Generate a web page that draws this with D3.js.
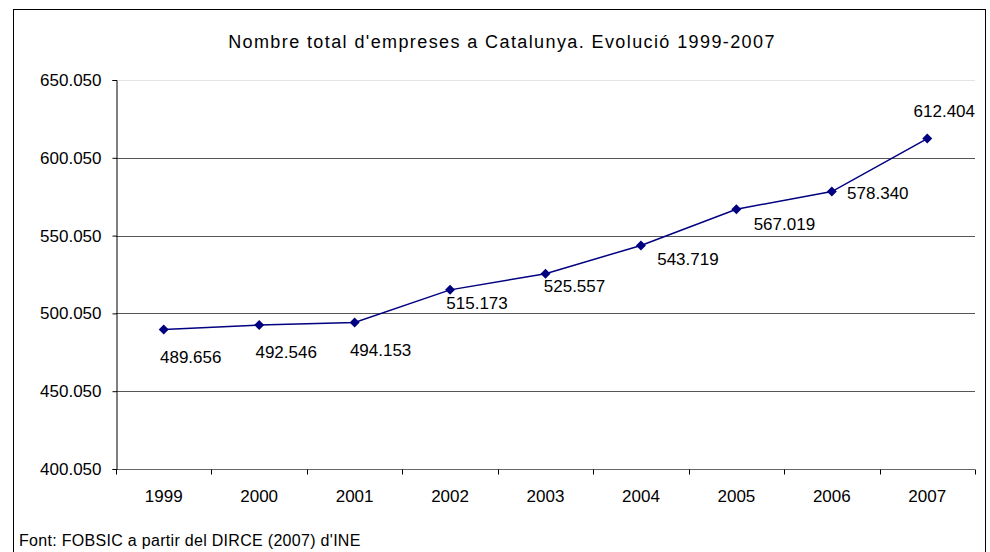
<!DOCTYPE html>
<html>
<head>
<meta charset="utf-8">
<script src="https://cdn.jsdelivr.net/npm/d3@7"></script>
<style>
  body { margin: 0; background: #fff; }
  svg text { font-family: "Liberation Sans", Arial, sans-serif; fill: #000; }
</style>
</head>
<body>
<div id="chart"></div>
<script>
// data
const years = ['1999', '2000', '2001', '2002', '2003', '2004', '2005', '2006', '2007'];
const empreses = [489656, 492546, 494153, 515173, 525557, 543719, 567019, 578340, 612404];
const yTicks = [400050, 450050, 500050, 550050, 600050, 650050];

// label offsets relative to each point (dx, dy of text centre)
const labelOffsets = [[27, 27], [27, 27], [26, 27], [27, 13], [29, 12], [47, 14], [48, 15], [46, 1], [17, -28]];

const w = 990, h = 552;
const margin = { left: 116, right: 15, top: 80, bottom: 83 };

const svg = d3.select('#chart')
  .append('svg')
  .attr('width', w)
  .attr('height', h);

// outer frame
svg.append('rect')
  .attr('x', 13.5).attr('y', 9.5)
  .attr('width', 972).attr('height', 560)
  .attr('fill', '#fff')
  .attr('stroke', '#000')
  .attr('stroke-width', 1);

const fmt = v => d3.format(',')(v).replace(/,/g, '.');

const yScale = d3.scaleLinear()
  .domain([400050, 650050])
  .range([h - margin.bottom, margin.top]);

const xScale = d3.scaleBand()
  .domain(years)
  .range([margin.left, w - margin.right]);

// gridlines
svg.append('g')
  .selectAll('line')
  .data(yTicks.slice(1))
  .enter()
  .append('line')
  .attr('x1', margin.left)
  .attr('x2', w - margin.right)
  .attr('y1', d => Math.round(yScale(d)) + 0.5)
  .attr('y2', d => Math.round(yScale(d)) + 0.5)
  .attr('stroke', d => d === 650050 ? '#e4e4e4' : '#555');

// x axis: ticks at category boundaries
const xAxisY = Math.round(yScale(400050)) + 0.5;
const xg = svg.append('g');
xg.append('line')
  .attr('x1', margin.left).attr('x2', w - margin.right)
  .attr('y1', xAxisY).attr('y2', xAxisY)
  .attr('stroke', '#666');
xg.selectAll('.xtick')
  .data(years.map(y => xScale(y)).concat([w - margin.right]))
  .enter()
  .append('line')
  .attr('x1', d => Math.round(d) + 0.5)
  .attr('x2', d => Math.round(d) + 0.5)
  .attr('y1', xAxisY)
  .attr('y2', xAxisY + 5)
  .attr('stroke', '#000');
xg.selectAll('.xlabel')
  .data(years)
  .enter()
  .append('text')
  .attr('x', d => xScale(d) + xScale.bandwidth() / 2)
  .attr('y', xAxisY + 32)
  .attr('text-anchor', 'middle')
  .style('font-size', '17px')
  .text(d => d);

// y axis
const yAxis = d3.axisLeft(yScale)
  .tickValues(yTicks)
  .tickSize(4)
  .tickPadding(11)
  .tickFormat(fmt);

svg.append('g')
  .attr('transform', 'translate(' + (margin.left + 0.5) + ',0)')
  .call(yAxis)
  .call(g => g.select('.domain').attr('stroke', '#000'))
  .call(g => g.selectAll('.tick line').attr('stroke', '#000'))
  .call(g => g.selectAll('text')
    .style('font-size', '17px')
    .style('font-family', '"Liberation Sans", Arial, sans-serif')
    .attr('fill', '#000'));

// series line
const pts = years.map((y, i) => ({ year: y, value: empreses[i], off: labelOffsets[i] }));
const cx = d => xScale(d.year) + xScale.bandwidth() / 2;

svg.append('path')
  .datum(pts)
  .attr('fill', 'none')
  .attr('stroke', '#000080')
  .attr('stroke-width', 1.5)
  .attr('d', d3.line().x(cx).y(d => yScale(d.value)));

svg.selectAll('.marker')
  .data(pts)
  .enter()
  .append('path')
  .attr('class', 'marker')
  .attr('transform', d => 'translate(' + cx(d) + ',' + yScale(d.value) + ')')
  .attr('d', 'M0,-5L5,0L0,5L-5,0Z')
  .attr('fill', '#000080');

// data labels
svg.selectAll('.dlabel')
  .data(pts)
  .enter()
  .append('text')
  .attr('x', d => cx(d) + d.off[0])
  .attr('y', d => yScale(d.value) + d.off[1])
  .attr('dy', '0.35em')
  .attr('text-anchor', 'middle')
  .style('font-size', '17px')
  .text(d => fmt(d.value));

// title
svg.append('text')
  .attr('x', 502)
  .attr('y', 48)
  .attr('text-anchor', 'middle')
  .style('font-size', '18px')
  .style('letter-spacing', '1.4px')
  .text("Nombre total d'empreses a Catalunya. Evolució 1999-2007");

// source
svg.append('text')
  .attr('x', 19)
  .attr('y', 546)
  .style('font-size', '16px')
  .style('letter-spacing', '0.3px')
  .text("Font: FOBSIC a partir del DIRCE (2007) d'INE");
</script>
</body>
</html>
